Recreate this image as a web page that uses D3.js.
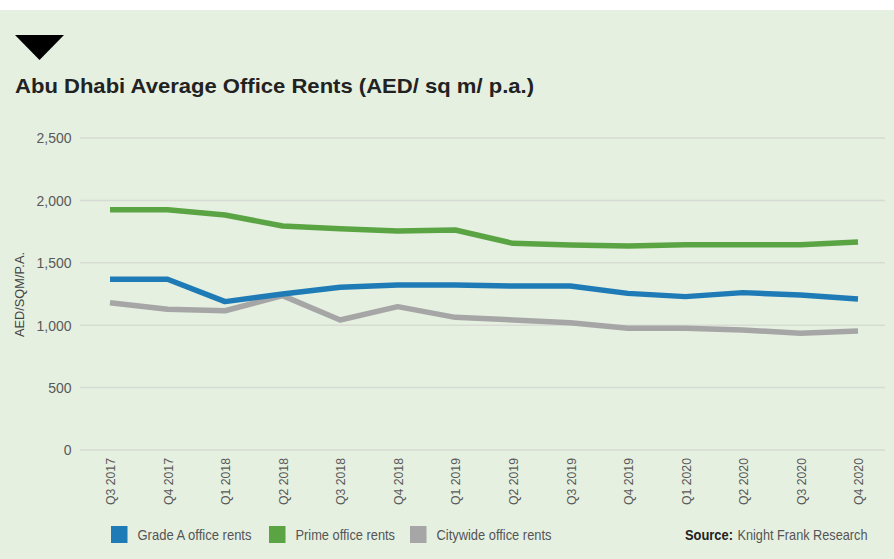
<!DOCTYPE html>
<html>
<head>
<meta charset="utf-8">
<script src="https://cdn.jsdelivr.net/npm/d3@7"></script>
<style>
  html, body { margin: 0; padding: 0; background: #ffffff; }
  svg { display: block; }
</style>
</head>
<body>
<script>
// Quarterly periods on the x axis
const quarters = ["Q3 2017", "Q4 2017", "Q1 2018", "Q2 2018", "Q3 2018", "Q4 2018",
  "Q1 2019", "Q2 2019", "Q3 2019", "Q4 2019", "Q1 2020", "Q2 2020", "Q3 2020", "Q4 2020"];

// Average rents, AED per sq m per annum
const gradeA = [1368, 1368, 1189, 1250, 1304, 1322, 1322, 1314, 1314, 1255, 1229, 1261, 1242, 1210];
const prime = [1925, 1925, 1883, 1795, 1773, 1755, 1763, 1656, 1643, 1635, 1645, 1645, 1645, 1667];
const citywide = [1180, 1127, 1116, 1237, 1042, 1149, 1063, 1042, 1020, 975, 975, 962, 935, 954];

const yTicks = [0, 500, 1000, 1500, 2000, 2500];
const seriesNames = ["Grade A office rents", "Prime office rents", "Citywide office rents"];
const seriesColors = ["#1f7bb6", "#5ba443", "#a6a6a6"];

const FONT = "Liberation Sans, Arial, Helvetica, sans-serif";
const W = 894, H = 559;
const svg = d3.select("body").append("svg").attr("width", W).attr("height", H);

// panel background below the thin white strip
svg.append("rect").attr("x", 0).attr("y", 10).attr("width", W).attr("height", H - 10).attr("fill", "#e5f0e1");

// header marker
svg.append("path").attr("d", "M15,35 L64,35 L39.5,60 Z").attr("fill", "#000");

svg.append("text")
  .attr("x", 15).attr("y", 92.5)
  .attr("font-family", FONT)
  .attr("font-weight", "bold").attr("font-size", 21)
  .attr("fill", "#222")
  .attr("textLength", 519).attr("lengthAdjust", "spacingAndGlyphs")
  .text("Abu Dhabi Average Office Rents (AED/ sq m/ p.a.)");

const x = d3.scalePoint().domain(quarters).range([110, 858]);
const y = d3.scaleLinear().domain([0, 2500]).range([450, 138]);

// horizontal grid
svg.append("g").selectAll("line").data(yTicks).join("line")
  .attr("x1", 80).attr("x2", 885)
  .attr("y1", d => y(d)).attr("y2", d => y(d))
  .attr("stroke", "#d7dbd3").attr("stroke-width", 1.5);

// y axis labels
const yAxis = d3.axisLeft(y).tickValues(yTicks).tickSize(0).tickPadding(0)
  .tickFormat(d3.format(","));
const gy = svg.append("g").attr("transform", "translate(71.5,0)").call(yAxis);
gy.select(".domain").remove();
gy.selectAll("text")
  .attr("font-family", FONT)
  .attr("font-size", 14).attr("fill", "#595959")
  .attr("dy", "0.35em");

svg.append("text")
  .attr("transform", "translate(23.5,294.5) rotate(-90)")
  .attr("text-anchor", "middle")
  .attr("font-family", FONT)
  .attr("font-size", 13.5).attr("fill", "#444")
  .attr("textLength", 85).attr("lengthAdjust", "spacingAndGlyphs")
  .text("AED/SQM/P.A.");

// x axis labels, rotated and slightly condensed
const xAxis = d3.axisBottom(x).tickSize(0).tickPadding(0);
const gx = svg.append("g").attr("transform", "translate(0,458)").call(xAxis);
gx.select(".domain").remove();
gx.selectAll("text")
  .attr("font-family", FONT)
  .attr("font-size", 13.5).attr("fill", "#595959")
  .attr("text-anchor", "end")
  .attr("transform", "rotate(-90) scale(0.91,1)")
  .attr("x", 0).attr("y", 0).attr("dx", 0).attr("dy", "0.35em");

// series lines
const line = d3.line().x((d, i) => x(quarters[i])).y(d => y(d));
const series = [gradeA, prime, citywide];
// grey first, then blue, then green on top
[2, 0, 1].forEach(k => {
  svg.append("path").datum(series[k])
    .attr("d", line).attr("fill", "none")
    .attr("stroke", seriesColors[k]).attr("stroke-width", 5.5)
    .attr("stroke-linejoin", "round");
});

// legend
const legendX = [111, 269, 410];
const legendTextW = [114, 99.5, 115];
const lg = svg.append("g");
seriesNames.forEach((name, i) => {
  lg.append("rect").attr("x", legendX[i]).attr("y", 526).attr("width", 16.5).attr("height", 17)
    .attr("fill", seriesColors[i]);
  lg.append("text").attr("x", legendX[i] + 26.5).attr("y", 540)
    .attr("font-family", FONT)
    .attr("font-size", 15).attr("fill", "#555")
    .attr("textLength", legendTextW[i]).attr("lengthAdjust", "spacingAndGlyphs")
    .text(name);
});

svg.append("text").attr("x", 685).attr("y", 540)
  .attr("font-family", FONT).attr("font-weight", "bold")
  .attr("font-size", 15).attr("fill", "#222")
  .attr("textLength", 48).attr("lengthAdjust", "spacingAndGlyphs")
  .text("Source:");
svg.append("text").attr("x", 737.5).attr("y", 540)
  .attr("font-family", FONT)
  .attr("font-size", 15).attr("fill", "#555")
  .attr("textLength", 130).attr("lengthAdjust", "spacingAndGlyphs")
  .text("Knight Frank Research");
</script>
</body>
</html>
